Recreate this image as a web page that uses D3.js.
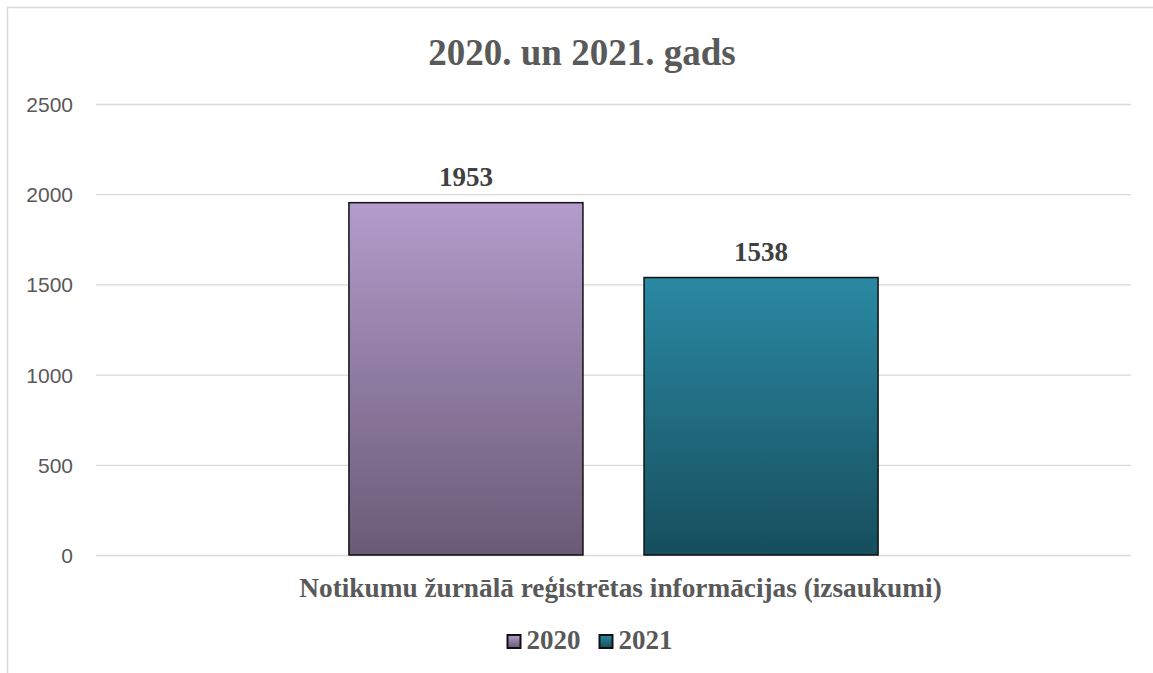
<!DOCTYPE html>
<html>
<head>
<meta charset="utf-8">
<script src="https://cdn.jsdelivr.net/npm/d3@7"></script>
<style>
  body { margin: 0; background: #fff; }
  svg { display: block; }
</style>
</head>
<body>
<div id="chart"></div>
<script>
const categories = ["Notikumu žurnālā reģistrētas informācijas (izsaukumi)"]
const seriesNames = ["2020", "2021"]
const values2020 = [1953]
const values2021 = [1538]
const yTicks = [0, 500, 1000, 1500, 2000, 2500]

const W = 1153, H = 673
const margin = { top: 104, right: 22, bottom: 118, left: 96 }
const width = W - margin.left - margin.right,
    height = H - margin.top - margin.bottom

const series = [
    { name: seriesNames[0], values: values2020, top: "#b39ccb", bottom: "#6a5a76", id: "g2020" },
    { name: seriesNames[1], values: values2021, top: "#2a89a3", bottom: "#164e5d", id: "g2021" }
]

const serif = "'Liberation Serif', 'Times New Roman', serif"

const svg = d3.select("#chart").append("svg")
    .attr("width", W).attr("height", H)

const defs = svg.append("defs")
series.forEach(s => {
    const g = defs.append("linearGradient").attr("id", s.id)
        .attr("x1", 0).attr("y1", 0).attr("x2", 0).attr("y2", 1)
    g.append("stop").attr("offset", "0%").attr("stop-color", s.top)
    g.append("stop").attr("offset", "100%").attr("stop-color", s.bottom)
})

// chart border (runs off the right and bottom edges)
svg.append("rect")
    .attr("x", 7.5).attr("y", 7.5)
    .attr("width", W).attr("height", H)
    .attr("fill", "none").attr("stroke", "#d9d9d9").attr("stroke-width", 1.5)

const plot = svg.append("g")
    .attr("transform", `translate(${margin.left},${margin.top})`)

const x0 = d3.scaleBand().domain(categories).range([0, width]).paddingInner(0).paddingOuter(0.478)
const x1 = d3.scaleBand().domain(seriesNames).range([0, x0.bandwidth()]).paddingInner(0.207)
const y = d3.scaleLinear().domain([0, 2500]).range([height, 0])

// gridlines + labels
plot.append("g")
    .call(d3.axisLeft(y).tickValues(yTicks).tickFormat(d3.format("d")).tickSize(-width).tickPadding(23))
    .call(g => g.select(".domain").remove())
    .call(g => g.selectAll(".tick line").attr("stroke", "#d9d9d9").attr("stroke-width", 1.3))
    .call(g => g.selectAll(".tick text")
        .attr("fill", "#595959")
        .attr("dy", "0.36em")
        .style("font-family", "'Liberation Sans', Arial, sans-serif")
        .style("font-size", "21px"))

// bars
const groups = plot.selectAll(".cat").data(categories).join("g")
    .attr("transform", d => `translate(${x0(d)},0)`)

series.forEach(s => {
    groups.append("rect")
        .attr("x", x1(s.name))
        .attr("y", (d, i) => y(s.values[i]))
        .attr("width", x1.bandwidth())
        .attr("height", (d, i) => height - y(s.values[i]))
        .attr("fill", `url(#${s.id})`)
        .attr("stroke", "#111").attr("stroke-width", 1.5)
    groups.append("text")
        .attr("x", x1(s.name) + x1.bandwidth() / 2)
        .attr("y", (d, i) => y(s.values[i]) - 17)
        .attr("text-anchor", "middle")
        .attr("fill", "#404040")
        .style("font-family", serif)
        .style("font-weight", "bold")
        .style("font-size", "27px")
        .text((d, i) => s.values[i])
})

// category axis label
plot.append("text")
    .attr("x", width / 2 + 7).attr("y", height + 42)
    .attr("text-anchor", "middle")
    .attr("fill", "#595959")
    .style("font-family", serif)
    .style("font-weight", "bold")
    .style("font-size", "27.3px")
    .text(categories[0])

// title
svg.append("text")
    .attr("x", 582).attr("y", 65)
    .attr("text-anchor", "middle")
    .attr("fill", "#595959")
    .style("font-family", serif)
    .style("font-weight", "bold")
    .style("font-size", "37px")
    .text("2020. un 2021. gads")

// legend
const legend = svg.append("g").attr("transform", "translate(507.5,649)")
let lx = 0
series.forEach(s => {
    const item = legend.append("g").attr("transform", `translate(${lx},0)`)
    item.append("rect")
        .attr("x", 0).attr("y", -14).attr("width", 13).attr("height", 13)
        .attr("fill", `url(#${s.id})`).attr("stroke", "#111").attr("stroke-width", 2)
    const t = item.append("text")
        .attr("x", 19).attr("y", 0)
        .attr("fill", "#595959")
        .style("font-family", serif)
        .style("font-weight", "bold")
        .style("font-size", "27px")
        .text(s.name)
    lx += 19 + t.node().getComputedTextLength() + 19
})
</script>
</body>
</html>
